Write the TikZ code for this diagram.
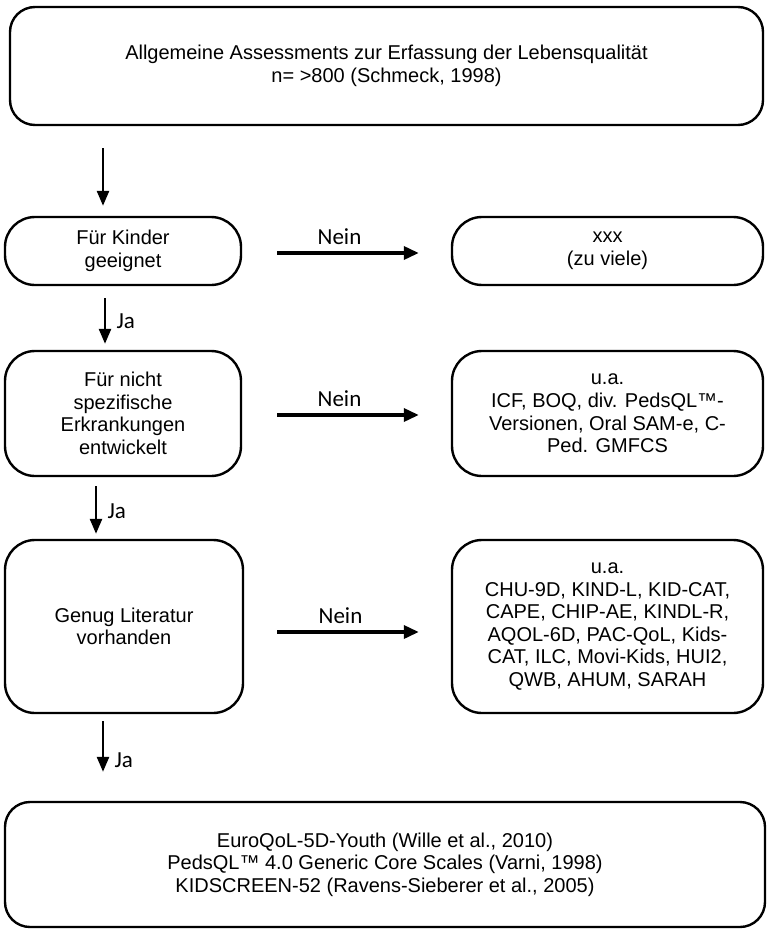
\documentclass[tikz,border=0pt]{standalone}
\usepackage{fontspec}
\setmainfont{Liberation Sans}
\newfontfamily\labelfont{Carlito}
\usetikzlibrary{arrows.meta,calc}

\tikzset{
  box/.style={draw, line width=2.4pt, rounded corners=30pt, align=center,
    font=\fontsize{20}{22.6}\selectfont, inner sep=0pt},
  down/.style={line width=2.6pt, -{Triangle[length=15pt,width=12pt]}},
  nein/.style={line width=3.4pt, -{Triangle[length=15pt,width=13pt]}},
  lbl/.style={font=\labelfont\fontsize{23}{26}\selectfont}
}

\begin{document}
\begin{tikzpicture}[x=1pt,y=-1pt]
  \useasboundingbox (0,0) rectangle (768,931);

  % Boxes
  \node[box, rounded corners=25pt, minimum width=753pt, minimum height=118pt] (top) at (386.5,66)
    {Allgemeine Assessments zur Erfassung der Lebensqualität\\ n= >800 (Schmeck, 1998)};
  \node[box, minimum width=236pt, minimum height=68pt] (kinder) at (123,251)
    {Für Kinder\\ geeignet};
  \node[box, minimum width=311pt, minimum height=68pt] (xxx) at (607.5,251)
    {xxx\\ (zu viele)};
  \node[box, minimum width=236pt, minimum height=125pt] (nicht) at (123,413.5)
    {Für nicht\\ spezifische\\ Erkrankungen\\ entwickelt};
  \node[box, minimum width=311pt, minimum height=125pt] (uaeins) at (607.5,413.5)
    {u.a.\\ ICF, BOQ, div. PedsQL™-\\ Versionen, Oral SAM-e, C-\\ Ped. GMFCS};
  \node[box, minimum width=238pt, minimum height=173pt] (lit) at (124,626.5)
    {Genug Literatur\\ vorhanden};
  \node[box, minimum width=311pt, minimum height=173pt] (uazwei) at (607.5,626.5)
    {u.a.\\ CHU-9D, KIND-L, KID-CAT,\\ CAPE, CHIP-AE, KINDL-R,\\ AQOL-6D, PAC-QoL, Kids-\\ CAT, ILC, Movi-Kids, HUI2,\\ QWB, AHUM, SARAH};
  \node[box, rounded corners=25pt, minimum width=760pt, minimum height=125pt] (final) at (385,864.5)
    {EuroQoL-5D-Youth (Wille et al., 2010)\\ PedsQL™ 4.0 Generic Core Scales (Varni, 1998)\\ KIDSCREEN-52 (Ravens-Sieberer et al., 2005)};

  % Vertical arrows
  \draw[down, shorten <=22pt, shorten >=10pt] ([xshift=-20pt]kinder.north |- top.south) -- ([xshift=-20pt]kinder.north);
  \draw[down, shorten <=12pt, shorten >=6pt] ([xshift=-18pt]kinder.south) -- ([xshift=-18pt]nicht.north)
    node[lbl, midway, right=7pt, yshift=-3pt] {Ja};
  \draw[down, shorten <=9pt, shorten >=5pt] ([xshift=-27pt]nicht.south) -- ([xshift=-27pt]nicht.south |- lit.north)
    node[lbl, midway, right=7pt, yshift=-3pt] {Ja};
  \draw[down, shorten <=7pt, shorten >=29pt] ([xshift=-21pt]lit.south) -- ([xshift=-21pt]lit.south |- final.north)
    node[lbl, midway, right=7pt, yshift=-3pt] {Ja};

  % Horizontal arrows
  \draw[nein, shorten <=35pt, shorten >=32pt] ([yshift=-2pt]kinder.east) -- ([yshift=-2pt]xxx.west)
    node[lbl, midway, above=3pt, xshift=-7pt] {Nein};
  \draw[nein, shorten <=35pt, shorten >=32pt] ([yshift=-1.5pt]nicht.east) -- ([yshift=-1.5pt]uaeins.west)
    node[lbl, midway, above=3pt, xshift=-7pt] {Nein};
  \draw[nein, shorten <=33pt, shorten >=32pt] ([yshift=-5.5pt]lit.east) -- ([yshift=-5.5pt]uazwei.west)
    node[lbl, midway, above=3pt, xshift=-7pt] {Nein};
\end{tikzpicture}
\end{document}
